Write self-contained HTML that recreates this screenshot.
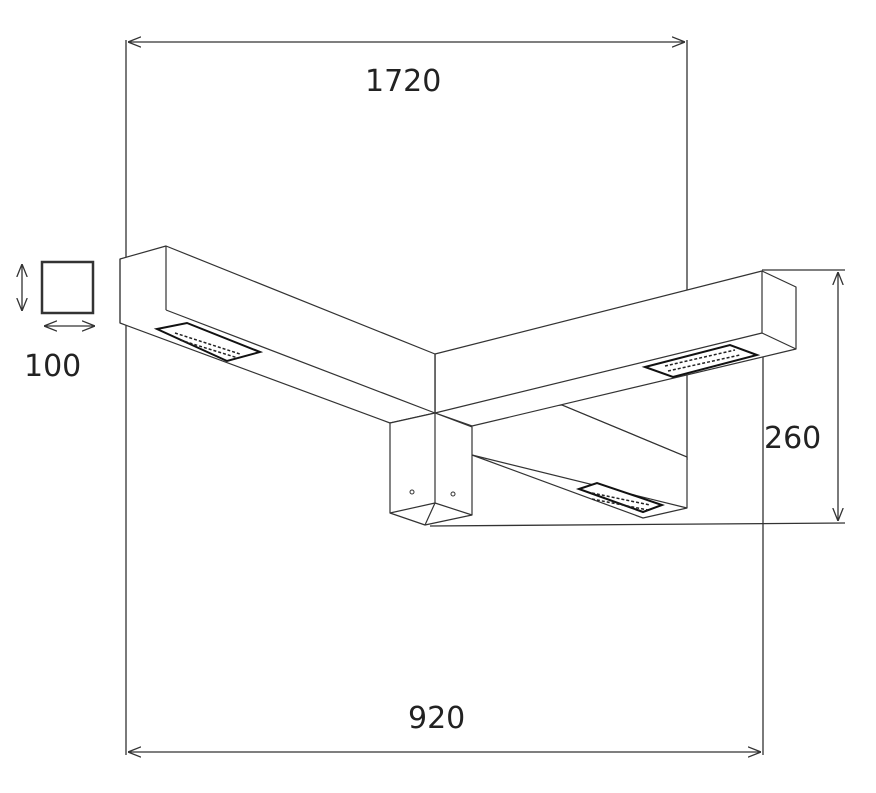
<!DOCTYPE html>
<html><head><style>body{margin:0;background:#fff}svg{display:block}text{font-family:"DejaVu Sans","Liberation Sans",sans-serif;fill:#222;font-size:30px}</style></head><body>
<svg width="876" height="793" viewBox="0 0 876 793" xmlns="http://www.w3.org/2000/svg">
<defs><marker id="a" viewBox="0 0 10 10" refX="10" refY="5" markerWidth="10" markerHeight="10" orient="auto-start-reverse"><path d="M0,1 L10,5 L0,9" fill="none" stroke="#333" stroke-width="1"/></marker></defs>
<g stroke="#333" stroke-width="1.3" fill="none">
<line x1="126" y1="40" x2="126" y2="755"/>
<line x1="687" y1="40" x2="687" y2="460"/>
<line x1="763" y1="330" x2="763" y2="755"/>
<line x1="128" y1="42" x2="685" y2="42" marker-start="url(#a)" marker-end="url(#a)"/>
<line x1="128" y1="752" x2="761" y2="752" marker-start="url(#a)" marker-end="url(#a)"/>
<line x1="762" y1="270" x2="845" y2="270"/>
<line x1="430" y1="526" x2="845" y2="523"/>
<line x1="838" y1="272" x2="838" y2="521" marker-start="url(#a)" marker-end="url(#a)"/>
<rect x="42" y="262" width="51" height="51" stroke-width="2.5"/>
<line x1="22" y1="264" x2="22" y2="311" marker-start="url(#a)" marker-end="url(#a)"/>
<line x1="44" y1="326" x2="95" y2="326" marker-start="url(#a)" marker-end="url(#a)"/>
</g>
<g stroke="#333" stroke-width="1.2" fill="#fff" stroke-linejoin="round">
<!-- third beam -->
<polygon points="435,413 562,405 687,457 687,508 643,518 472,455"/>
<line x1="472" y1="455" x2="687" y2="508"/>
<line x1="562" y1="405" x2="687" y2="457"/>
<!-- right beam -->
<polygon points="435,354 762,271 796,287 796,349 472,426 435,413"/>
<line x1="762" y1="271" x2="762" y2="333"/>
<line x1="435" y1="413" x2="762" y2="333"/>
<line x1="762" y1="333" x2="796" y2="349"/>
<!-- left beam -->
<polygon points="120,259 166,246 435,354 435,413 390,423 120,323"/>
<line x1="166" y1="246" x2="166" y2="310"/>
<line x1="166" y1="310" x2="435" y2="413"/>
<line x1="120" y1="259" x2="120" y2="323"/>
<!-- post -->
<polygon points="390,423 435,413 472,427 472,515 425,525 390,513"/>
<line x1="435" y1="413" x2="435" y2="503"/>
<line x1="390" y1="513" x2="435" y2="503"/>
<line x1="435" y1="503" x2="472" y2="515"/>
<line x1="435" y1="503" x2="425" y2="525"/>
<line x1="435" y1="354" x2="435" y2="413"/>
</g>
<g stroke="#111" stroke-width="2" fill="#fff">
<polygon points="157,329 187,323 260,352 227,361"/>
<polygon points="645,367 730,345 757,355 673,377"/>
<polygon points="579,489 597,483 662,505 643,512"/>
</g>
<g stroke="#222" stroke-width="1.5" fill="none" stroke-dasharray="3 2">
<line x1="175" y1="333" x2="240" y2="354"/><line x1="180" y1="340" x2="238" y2="358"/>
<line x1="665" y1="366" x2="735" y2="350"/><line x1="668" y1="371" x2="740" y2="355"/>
<line x1="592" y1="493" x2="650" y2="505"/><line x1="592" y1="499" x2="648" y2="510"/>
</g>
<circle cx="412" cy="492" r="2" fill="none" stroke="#333"/>
<circle cx="453" cy="494" r="2" fill="none" stroke="#333"/>
<text x="365" y="91">1720</text>
<text x="408" y="728">920</text>
<text x="764" y="448">260</text>
<text x="24" y="376">100</text>
</svg>
</body></html>
